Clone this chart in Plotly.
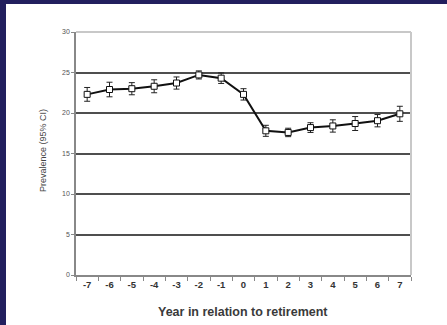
import plotly.graph_objects as go

# Prevalence by year relative to retirement, with 95% CI half-widths
years = ["-7", "-6", "-5", "-4", "-3", "-2", "-1", "0", "1", "2", "3", "4", "5", "6", "7"]
prevalence = [22.3, 22.9, 23.0, 23.3, 23.7, 24.7, 24.3, 22.3, 17.8, 17.6, 18.2, 18.4, 18.7, 19.05, 19.9]
ci_half = [0.85, 0.9, 0.75, 0.8, 0.75, 0.5, 0.65, 0.7, 0.68, 0.52, 0.6, 0.76, 0.86, 0.76, 0.93]
y_ticks = [0, 5, 10, 15, 20, 25, 30]

W, H = 447, 325
L, R, T, B = 76, 36, 32, 50
pw, ph = W - L - R, H - T - B


def px_x(px):
    return (px - L) / pw


def px_y(py):
    return (H - B - py) / ph


fig = go.Figure()
fig.add_trace(go.Scatter(
    x=years, y=prevalence,
    mode="lines+markers",
    line=dict(color="#111111", width=2),
    marker=dict(symbol="square", size=6, color="white",
                line=dict(color="#111111", width=1)),
    error_y=dict(type="data", array=ci_half, visible=True,
                 color="#222222", thickness=1, width=3),
    showlegend=False,
))

navy = "#221f5e"
shapes = [
    # frame on the left and top of the page
    dict(type="rect", xref="paper", yref="paper",
         x0=px_x(0), x1=px_x(6), y0=px_y(H), y1=px_y(0),
         fillcolor=navy, line=dict(width=0), layer="above"),
    dict(type="rect", xref="paper", yref="paper",
         x0=px_x(0), x1=px_x(W), y0=px_y(4), y1=px_y(0),
         fillcolor=navy, line=dict(width=0), layer="above"),
    # light border on top and right of the plot area
    dict(type="line", xref="paper", yref="paper", x0=0, x1=1, y0=1, y1=1,
         line=dict(color="#c8c8c8", width=2), layer="above"),
    dict(type="line", xref="paper", yref="paper", x0=1, x1=1, y0=0, y1=1,
         line=dict(color="#c8c8c8", width=2), layer="above"),
]

fig.update_layout(
    width=W, height=H,
    margin=dict(l=L, r=R, t=T, b=B),
    paper_bgcolor="white", plot_bgcolor="white",
    font=dict(family="Liberation Sans, Arial, sans-serif", color="#333333"),
    shapes=shapes,
    annotations=[
        dict(text="<b>Year in relation to retirement</b>", xref="paper", yref="paper",
             x=px_x(243), y=px_y(312), xanchor="center", yanchor="middle", showarrow=False,
             font=dict(size=12.5, color="#3a3a3a")),
        dict(text="Prevalence (95% CI)", xref="paper", yref="paper",
             x=px_x(43), y=px_y(151), xanchor="center", yanchor="middle", showarrow=False,
             textangle=-90, font=dict(size=9, color="#444444")),
    ],
)

fig.update_xaxes(
    type="category", categoryorder="array", categoryarray=years,
    range=[-0.5, len(years) - 0.5],
    showgrid=False, zeroline=False,
    showline=True, linecolor="#888888", linewidth=1.5,
    ticks="outside", tickson="boundaries", ticklen=4, tickcolor="#888888",
    tickfont=dict(size=9.5, color="#333333", family="Liberation Sans, Arial, sans-serif"),
    tickprefix="<b>", ticksuffix="</b>",
)
fig.update_yaxes(
    range=[0, 30], tickvals=y_ticks,
    showgrid=True, gridcolor="#4f4f4f", gridwidth=1.5,
    zeroline=False,
    showline=True, linecolor="#888888", linewidth=1.5,
    ticks="outside", ticklen=3, tickcolor="#888888",
    tickfont=dict(size=7, color="#555555"),
)

fig.write_html("out.html")
